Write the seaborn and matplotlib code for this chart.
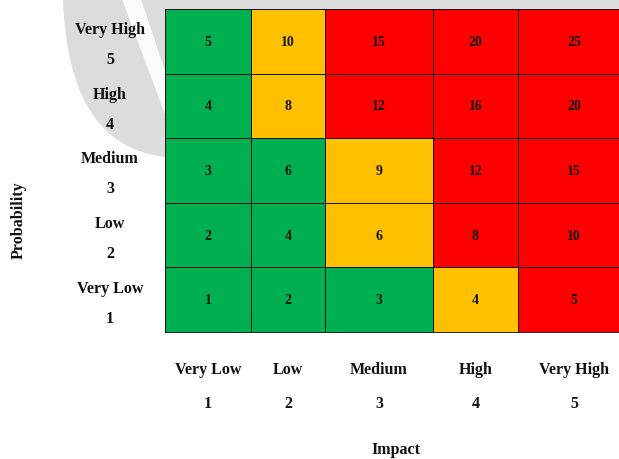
import numpy as np
import pandas as pd
import seaborn as sns
import matplotlib
matplotlib.use("Agg")
import matplotlib.pyplot as plt
from matplotlib.colors import ListedColormap
from matplotlib.path import Path
from matplotlib.patches import PathPatch, Polygon
from matplotlib import transforms

# Axis categories
impact_names = ["Very Low", "Low", "Medium", "High", "Very High"]
impact_values = [1, 2, 3, 4, 5]
prob_names = ["Very Low", "Low", "Medium", "High", "Very High"]
prob_values = [1, 2, 3, 4, 5]

# Risk level per cell (1 = low/green, 2 = medium/amber, 3 = high/red),
# rows listed from probability 1 up to 5, columns impact 1..5
risk_level = [
    [1, 1, 1, 2, 3],
    [1, 1, 2, 3, 3],
    [1, 1, 2, 3, 3],
    [1, 2, 3, 3, 3],
    [1, 2, 3, 3, 3],
]

# Layout: relative column widths (unequal, as in the matrix) and pixel frame
col_widths = [86, 74, 108, 85, 112]
W, H = 619, 460
grid_left, grid_right, grid_top, grid_bottom = 165, 630, 10, 333

risk_colors = ["#00b050", "#ffc000", "#ff0000"]
ink = "#111111"
line_color = "#141414"
label_size = 11.5
cell_size = 10

sns.set_theme(style="white")
plt.rcParams["font.family"] = ["Liberation Serif", "DejaVu Serif"]

fig = plt.figure(figsize=(W / 100, H / 100), dpi=100)
fig.patch.set_facecolor("white")

# Background decoration in pixel coordinates
bg = fig.add_axes([0, 0, 1, 1], zorder=0)
bg.set_xlim(0, W)
bg.set_ylim(H, 0)
bg.axis("off")

grey = Path(
    [(63, 0), (66, 90), (95, 150), (165, 158), (W, 158), (W, 0), (63, 0)],
    [Path.MOVETO, Path.CURVE4, Path.CURVE4, Path.CURVE4,
     Path.LINETO, Path.LINETO, Path.CLOSEPOLY],
)
bg.add_patch(PathPatch(grey, facecolor="#dcdcdc", edgecolor="none"))
bg.add_patch(Polygon([(122, 0), (141, 0), (166, 75), (166, 118)],
                     closed=True, facecolor="white", edgecolor="none", alpha=0.9))

# Matrix axes
ax = fig.add_axes([
    grid_left / W,
    (H - grid_bottom) / H,
    (grid_right - grid_left) / W,
    (grid_bottom - grid_top) / H,
], zorder=1)
ax.set_facecolor("none")

col_edges = np.concatenate([[0], np.cumsum(col_widths)])
col_centers = (col_edges[:-1] + col_edges[1:]) / 2
row_edges = np.arange(len(prob_values) + 1)

rows = []
for pi, p in enumerate(prob_values):
    for ii, imp in enumerate(impact_values):
        rows.append({
            "impact": col_centers[ii],
            "prob": pi + 0.5,
            "level": risk_level[pi][ii],
            "score": imp * p,
        })
df = pd.DataFrame(rows)

sns.histplot(
    data=df, x="impact", y="prob", weights="level",
    bins=[col_edges, row_edges],
    cmap=ListedColormap(risk_colors), vmin=0.5, vmax=3.5,
    edgecolor=line_color, linewidth=0.65,
    cbar=False, ax=ax,
)
ax.set_xlim(col_edges[0], col_edges[-1])
ax.set_ylim(0, len(prob_values))
ax.set_xticks([])
ax.set_yticks([])
ax.set_xlabel("")
ax.set_ylabel("")
for s in ax.spines.values():
    s.set_visible(True)
    s.set_color(line_color)
    s.set_linewidth(0.65)

for _, r in df.iterrows():
    ax.text(r["impact"], r["prob"], f"{int(r['score'])}", ha="center", va="center",
            fontsize=cell_size, fontweight="bold", color="#141414")

# Column labels below the matrix
col_tr = transforms.blended_transform_factory(ax.transData, bg.transData)
for c, name, val in zip(col_centers, impact_names, impact_values):
    ax.text(c, 370, name, transform=col_tr, ha="center", va="center",
            fontsize=label_size, fontweight="bold", color=ink, clip_on=False)
    ax.text(c, 404, str(val), transform=col_tr, ha="center", va="center",
            fontsize=label_size, fontweight="bold", color=ink, clip_on=False)

# Row labels on the left
row_tr = transforms.blended_transform_factory(bg.transData, ax.transData)
name_tr = transforms.offset_copy(row_tr, fig=fig, y=12, units="dots")
num_tr = transforms.offset_copy(row_tr, fig=fig, y=-18, units="dots")
for pi, (name, val) in enumerate(zip(prob_names, prob_values)):
    ax.text(110, pi + 0.5, name, transform=name_tr, ha="center", va="center",
            fontsize=label_size, fontweight="bold", color=ink, clip_on=False)
    ax.text(110, pi + 0.5, str(val), transform=num_tr, ha="center", va="center",
            fontsize=label_size, fontweight="bold", color=ink, clip_on=False)

bg.text(396, 450, "Impact", ha="center", va="center",
        fontsize=label_size, fontweight="bold", color=ink)
bg.text(19, 220, "Probability", ha="center", va="center", rotation=90,
        fontsize=label_size, fontweight="bold", color=ink)

fig.savefig("out.png", dpi=100, facecolor="white")
